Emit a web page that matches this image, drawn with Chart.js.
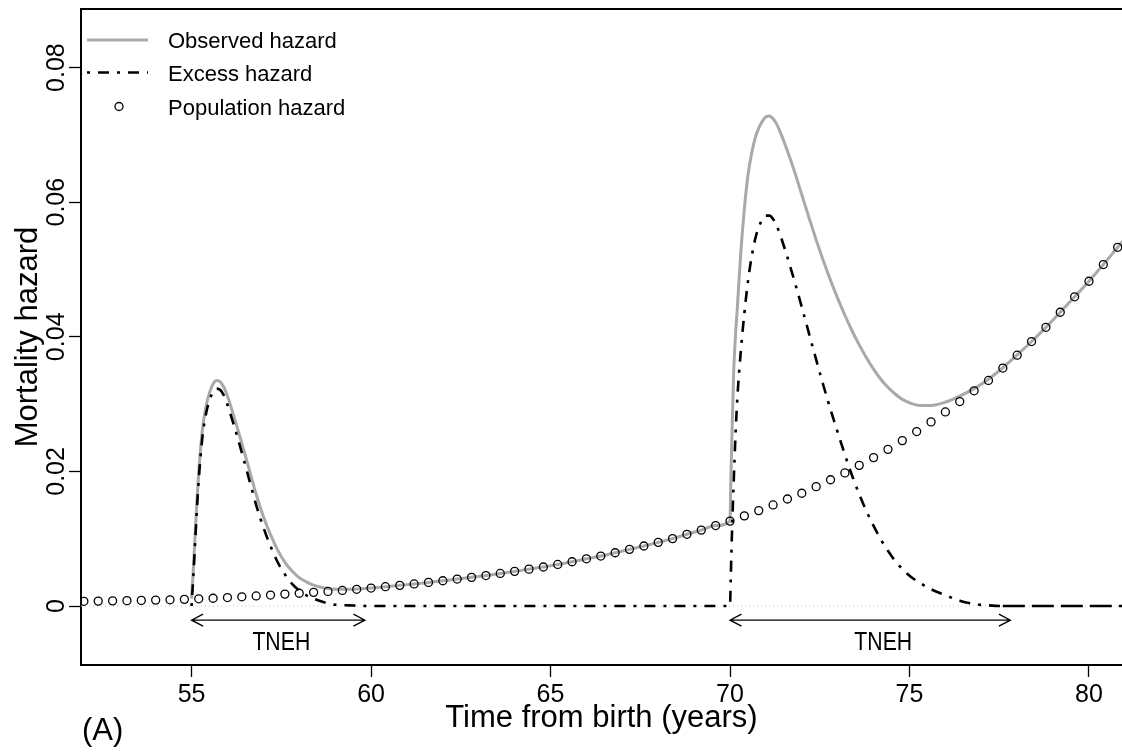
<!DOCTYPE html>
<html>
<head>
<meta charset="utf-8">
<title>Mortality hazard</title>
<script src="https://cdn.jsdelivr.net/npm/chart.js@4.4.1/dist/chart.umd.min.js"></script>
<style>
  html, body { margin: 0; padding: 0; background: #fff; }
  canvas { display: block; }
</style>
</head>
<body>
<canvas id="hazardChart" width="1122" height="753"></canvas>
<script>
// axes
const xRange = [51.92, 80.92];
const yRange = [-0.00876, 0.0887];
const xTicks = [55, 60, 65, 70, 75, 80];
const yTicks = [0, 0.02, 0.04, 0.06, 0.08];
const yTickLabels = ['0', '0.02', '0.04', '0.06', '0.08'];

// population hazard (open circles)
const popX = [52.0, 52.4, 52.8, 53.2, 53.6, 54.0, 54.4, 54.8, 55.2, 55.6, 56.0, 56.4, 56.8, 57.2, 57.6,
  58.0, 58.4, 58.8, 59.2, 59.6, 60.0, 60.4, 60.8, 61.2, 61.6, 62.0, 62.4, 62.8, 63.2, 63.6, 64.0, 64.4,
  64.8, 65.2, 65.6, 66.0, 66.4, 66.8, 67.2, 67.6, 68.0, 68.4, 68.8, 69.2, 69.6, 70.0, 70.4, 70.8, 71.2,
  71.6, 72.0, 72.4, 72.8, 73.2, 73.6, 74.0, 74.4, 74.8, 75.2, 75.6, 76.0, 76.4, 76.8, 77.2, 77.6, 78.0,
  78.4, 78.8, 79.2, 79.6, 80.0, 80.4, 80.8];
const popY = [0.00070, 0.00073, 0.00077, 0.00080, 0.00084, 0.00088, 0.00093, 0.00099, 0.00107, 0.00116,
  0.00126, 0.00137, 0.00150, 0.00163, 0.00177, 0.00190, 0.00203, 0.00217, 0.00232, 0.00249, 0.00267,
  0.00287, 0.00307, 0.00328, 0.00351, 0.00376, 0.00401, 0.00426, 0.00453, 0.00484, 0.00515, 0.00548,
  0.00580, 0.00618, 0.00658, 0.00702, 0.00743, 0.00792, 0.00842, 0.00892, 0.00946, 0.01002, 0.01066,
  0.01128, 0.01196, 0.01262, 0.01340, 0.01418, 0.01502, 0.01590, 0.01676, 0.01774, 0.01876, 0.01978,
  0.02090, 0.02205, 0.02328, 0.02458, 0.02592, 0.02736, 0.02884, 0.03038, 0.03198, 0.03352, 0.03536,
  0.03727, 0.03929, 0.04141, 0.04365, 0.04594, 0.04825, 0.05073, 0.05330];

// observed hazard (grey line)
const obsX = [55.0, 55.05, 55.1, 55.15, 55.2, 55.3, 55.4, 55.5, 55.6, 55.7, 55.8, 55.9, 56.0, 56.2, 56.4,
  56.6, 56.8, 57.0, 57.2, 57.4, 57.6, 57.8, 58.0, 58.2, 58.4, 58.6, 58.8, 59.0, 59.4, 60.0,
  60.4, 60.8, 61.2, 61.6, 62.0, 62.4, 62.8, 63.2, 63.6, 64.0, 64.4, 64.8, 65.2, 65.6, 66.0, 66.4, 66.8,
  67.2, 67.6, 68.0, 68.4, 68.8, 69.2, 69.6,
  70.0, 70.02, 70.05, 70.1, 70.15, 70.2, 70.3, 70.4, 70.5, 70.6, 70.7, 70.8, 70.9, 71.0, 71.1, 71.2,
  71.3, 71.4, 71.6, 71.8, 72.0, 72.2, 72.4, 72.6, 72.8, 73.0, 73.2, 73.4, 73.6, 73.8, 74.0, 74.2, 74.4,
  74.6, 74.8, 75.0, 75.3, 75.6, 76.0, 76.4, 76.8, 77.2, 77.6, 78.0, 78.4, 78.8, 79.2, 79.6, 80.0, 80.4,
  80.8, 81.0];
const obsY = [0.0011, 0.0055, 0.0106, 0.0156, 0.0199, 0.0261, 0.0296, 0.0317, 0.0330, 0.0335, 0.0333,
  0.0325, 0.0312, 0.0278, 0.0242, 0.0204, 0.0166, 0.0133, 0.0106, 0.0083, 0.0065, 0.0052, 0.0042, 0.0036,
  0.0031, 0.0028, 0.0026, 0.0025, 0.0025, 0.00267,
  0.00287, 0.00307, 0.00328, 0.00351, 0.00376, 0.00401, 0.00426, 0.00453, 0.00484, 0.00515, 0.00548,
  0.00580, 0.00618, 0.00658, 0.00702, 0.00743, 0.00792, 0.00842, 0.00892, 0.00946, 0.01002, 0.01066,
  0.01128, 0.01196,
  0.0126, 0.0180, 0.0245, 0.0345, 0.0400, 0.0440, 0.0525, 0.0590, 0.0640, 0.0672, 0.0695, 0.0710, 0.0720,
  0.0727, 0.0728, 0.0724, 0.0716, 0.0704, 0.0676, 0.0645, 0.0611, 0.0577, 0.0544, 0.0513, 0.0484, 0.0457,
  0.0432, 0.0409, 0.0388, 0.0369, 0.0352, 0.0337, 0.0325, 0.0315, 0.0307, 0.0302, 0.0298, 0.0298, 0.0303,
  0.0312, 0.0323, 0.0337, 0.0354, 0.0373, 0.0393, 0.0414, 0.04365, 0.04594, 0.04825, 0.05073, 0.0533,
  0.0546];

// excess hazard (dot-dash line)
const excX = [55.0, 55.05, 55.1, 55.15, 55.2, 55.3, 55.4, 55.5, 55.6, 55.7, 55.8, 55.9, 56.0, 56.2, 56.4,
  56.6, 56.8, 57.0, 57.2, 57.4, 57.6, 57.8, 58.0, 58.2, 58.4, 58.6, 58.8, 59.0, 59.4, 60.0,
  70.0, 70.02, 70.05, 70.1, 70.15, 70.2, 70.3, 70.4, 70.5, 70.6, 70.7, 70.8, 70.9, 71.0, 71.1, 71.2,
  71.3, 71.4, 71.6, 71.8, 72.0, 72.2, 72.4, 72.6, 72.8, 73.0, 73.2, 73.4, 73.6, 73.8, 74.0, 74.2, 74.4,
  74.6, 74.8, 75.0, 75.3, 75.6, 76.0, 76.4, 76.8, 77.2, 77.6, 81.0];
const excY = [0, 0.0045, 0.0095, 0.0145, 0.0188, 0.0250, 0.0285, 0.0306, 0.0318, 0.0323, 0.0321, 0.0313,
  0.0299, 0.0265, 0.0228, 0.0189, 0.0150, 0.0117, 0.0089, 0.0065, 0.0047, 0.0033, 0.0023, 0.0016, 0.0011,
  0.0007, 0.0004, 0.0002, 0.0001, 0,
  0, 0.0040, 0.0100, 0.0180, 0.0250, 0.0305, 0.0378, 0.0435, 0.0482, 0.0518, 0.0545, 0.0563, 0.0574,
  0.0580, 0.0580, 0.0575, 0.0565, 0.0551, 0.0518, 0.0482, 0.0444, 0.0405, 0.0366, 0.0328, 0.0292, 0.0258,
  0.0225, 0.0194, 0.0166, 0.0141, 0.0119, 0.0099, 0.0082, 0.0067, 0.0055, 0.0045, 0.0034, 0.0025, 0.0016,
  0.0008, 0.0003, 0.0001, 0, 0];

// TNEH arrows
const tnehStart = [55, 70];
const tnehEnd = [59.83, 77.81];
const tnehLabelX = [57.5, 74.27];
const tnehY = -0.0021;

const legendLabels = ['Observed hazard', 'Excess hazard', 'Population hazard'];

const GREY = '#a9a9a9';
const DOTDASH = [3, 8, 11, 8];
const FONT = '"Liberation Sans", Arial, Helvetica, sans-serif';

const toPoints = (xs, ys) => xs.map((x, i) => ({ x: x, y: ys[i] }));

const drawArrow = (ctx, x1, x2, y) => {
  const h = 11.5, w = 6;
  ctx.beginPath();
  ctx.moveTo(x1, y); ctx.lineTo(x2, y);
  ctx.moveTo(x1 + h, y - w); ctx.lineTo(x1, y); ctx.lineTo(x1 + h, y + w);
  ctx.moveTo(x2 - h, y - w); ctx.lineTo(x2, y); ctx.lineTo(x2 - h, y + w);
  ctx.stroke();
};

const framePlugin = {
  id: 'frame',
  beforeDatasetsDraw(chart) {
    const { ctx, chartArea: a, scales: { y } } = chart;
    const y0 = y.getPixelForValue(0);
    ctx.save();
    ctx.strokeStyle = '#c8c8c8';
    ctx.lineWidth = 1;
    ctx.setLineDash([1, 3]);
    ctx.beginPath();
    ctx.moveTo(a.left, y0);
    ctx.lineTo(a.right, y0);
    ctx.stroke();
    ctx.restore();
  },
  afterDraw(chart) {
    const { ctx, chartArea: a, scales: { x, y } } = chart;
    ctx.save();
    // top of box
    ctx.strokeStyle = '#000';
    ctx.lineWidth = 2;
    ctx.beginPath();
    ctx.moveTo(a.left - 1, a.top);
    ctx.lineTo(a.right, a.top);
    ctx.stroke();

    ctx.fillStyle = '#000';
    // y tick labels, rotated like R
    ctx.font = '25px ' + FONT;
    ctx.textAlign = 'center';
    ctx.textBaseline = 'alphabetic';
    yTicks.forEach((v, i) => {
      ctx.save();
      ctx.translate(64, y.getPixelForValue(v));
      ctx.rotate(-Math.PI / 2);
      ctx.fillText(yTickLabels[i], 0, 0);
      ctx.restore();
    });

    // axis titles
    ctx.font = '31px ' + FONT;
    ctx.save();
    ctx.translate(37, (a.top + a.bottom) / 2);
    ctx.rotate(-Math.PI / 2);
    ctx.fillText('Mortality hazard', 0, 0);
    ctx.restore();
    ctx.fillText('Time from birth (years)', (a.left + a.right) / 2, 727);
    ctx.textAlign = 'left';
    ctx.fillText('(A)', 82, 740);

    // TNEH arrows
    ctx.lineWidth = 1.3;
    const ay = y.getPixelForValue(tnehY);
    tnehStart.forEach((s, i) => {
      drawArrow(ctx, x.getPixelForValue(s), x.getPixelForValue(tnehEnd[i]), ay);
      ctx.save();
      ctx.translate(x.getPixelForValue(tnehLabelX[i]), 649.5);
      ctx.scale(0.85, 1);
      ctx.font = '25px ' + FONT;
      ctx.textAlign = 'center';
      ctx.fillText('TNEH', 0, 0);
      ctx.restore();
    });

    // legend
    ctx.font = '22px ' + FONT;
    ctx.textAlign = 'left';
    const rows = [40, 72.5, 106.5];
    legendLabels.forEach((t, i) => ctx.fillText(t, 168, rows[i] + 8));
    ctx.strokeStyle = GREY;
    ctx.lineWidth = 3;
    ctx.beginPath(); ctx.moveTo(87, rows[0]); ctx.lineTo(148, rows[0]); ctx.stroke();
    ctx.strokeStyle = '#000';
    ctx.lineWidth = 2.6;
    ctx.setLineDash(DOTDASH);
    ctx.beginPath(); ctx.moveTo(87, rows[1]); ctx.lineTo(148, rows[1]); ctx.stroke();
    ctx.setLineDash([]);
    ctx.lineWidth = 1.3;
    ctx.beginPath(); ctx.arc(119, rows[2], 4, 0, Math.PI * 2); ctx.stroke();
    ctx.restore();
  }
};

Chart.defaults.font.family = FONT;
Chart.defaults.color = '#000';

new Chart(document.getElementById('hazardChart'), {
  type: 'line',
  data: {
    datasets: [
      {
        label: 'Population hazard',
        data: toPoints(popX, popY),
        showLine: false,
        pointRadius: 4,
        pointBorderWidth: 1.3,
        pointBorderColor: '#000',
        pointBackgroundColor: 'rgba(0,0,0,0)'
      },
      {
        label: 'Excess hazard',
        data: toPoints(excX, excY),
        borderColor: '#000',
        borderWidth: 2.6,
        borderDash: DOTDASH,
        pointRadius: 0,
        cubicInterpolationMode: 'monotone',
        segment: {
          borderDash: c => (c.p0.parsed.x >= 77.6 ? [22, 7] : undefined)
        }
      },
      {
        label: 'Observed hazard',
        data: toPoints(obsX, obsY),
        borderColor: GREY,
        borderWidth: 3,
        pointRadius: 0,
        cubicInterpolationMode: 'monotone'
      }
    ]
  },
  options: {
    responsive: false,
    animation: false,
    layout: { autoPadding: false, padding: { top: 9, left: 0, right: 0, bottom: 0 } },
    plugins: { legend: { display: false }, tooltip: { enabled: false } },
    scales: {
      x: {
        type: 'linear',
        min: xRange[0],
        max: xRange[1],
        afterBuildTicks: s => { s.ticks = xTicks.map(v => ({ value: v })); },
        afterFit: s => { s.height = 88; s.paddingLeft = 0; s.paddingRight = 0; },
        border: { display: true, color: '#000', width: 2 },
        grid: { drawOnChartArea: false, drawTicks: true, tickLength: 12, tickColor: '#000', tickWidth: 1.3 },
        ticks: { font: { size: 25 }, padding: 3, maxRotation: 0, callback: v => String(v) }
      },
      y: {
        type: 'linear',
        min: yRange[0],
        max: yRange[1],
        afterBuildTicks: s => { s.ticks = yTicks.map(v => ({ value: v })); },
        afterFit: s => { s.width = 81; s.paddingTop = 0; s.paddingBottom = 0; },
        border: { display: true, color: '#000', width: 2 },
        grid: { drawOnChartArea: false, drawTicks: true, tickLength: 12, tickColor: '#000', tickWidth: 1.3 },
        ticks: { display: false }
      }
    }
  },
  plugins: [framePlugin]
});
</script>
</body>
</html>
